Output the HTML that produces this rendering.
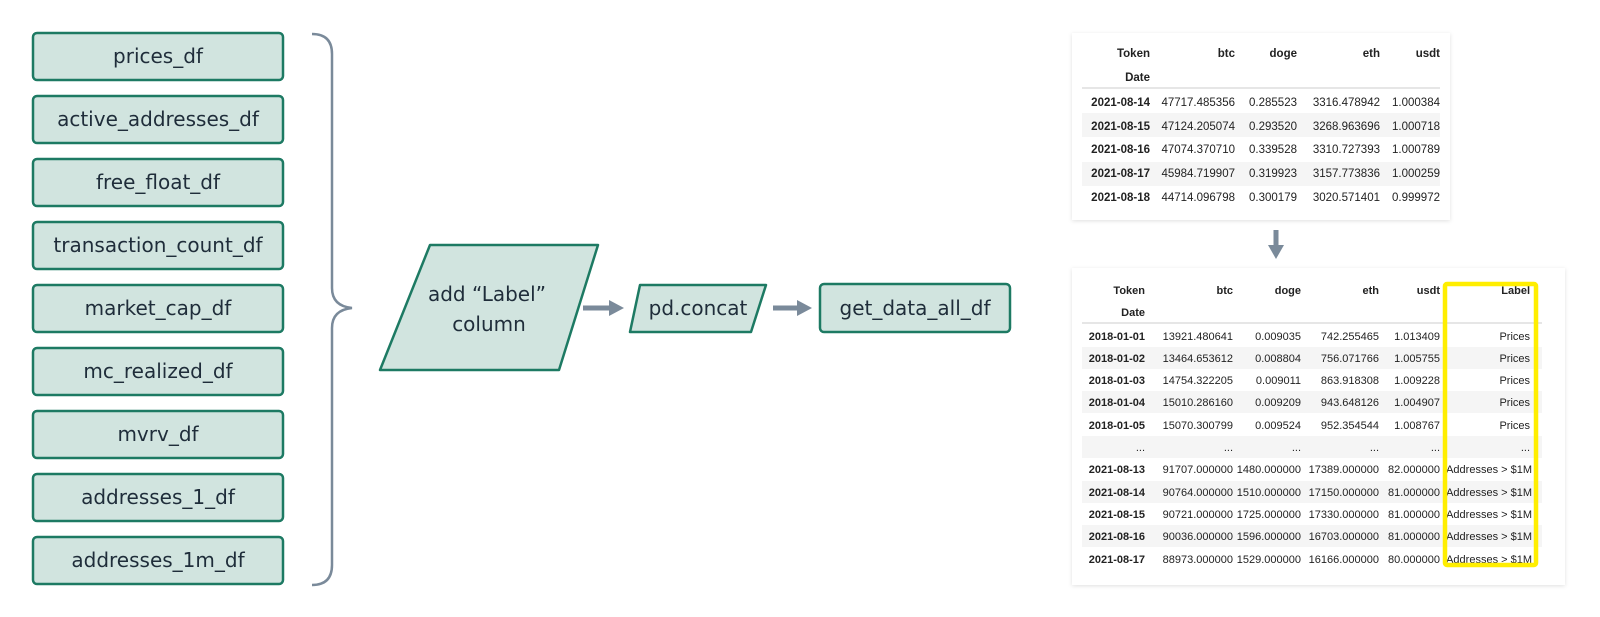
<!DOCTYPE html>
<html><head><meta charset="utf-8"><style>
html,body{margin:0;padding:0;background:#fff;}
svg{display:block;}
.n{font-family:"DejaVu Sans","Liberation Sans",sans-serif;font-size:20px;fill:#1f2d3a;text-anchor:middle;}
.t{font-family:"Liberation Sans",sans-serif;font-size:11.5px;fill:#222;text-anchor:end;}
.t2{font-family:"Liberation Sans",sans-serif;font-size:11px;fill:#222;text-anchor:end;}
.b{font-weight:bold;}
</style></head><body>
<svg width="1600" height="617" viewBox="0 0 1600 617" xmlns="http://www.w3.org/2000/svg">
<defs>
<filter id="sh" x="-5%" y="-5%" width="110%" height="110%"><feDropShadow dx="0" dy="1" stdDeviation="2" flood-color="#000" flood-opacity="0.12"/></filter>
</defs>
<g fill="#d1e4df" stroke="#1d7a63" stroke-width="2.5">
<rect x="33" y="33" width="250" height="47" rx="4"/>
<rect x="33" y="96" width="250" height="47" rx="4"/>
<rect x="33" y="159" width="250" height="47" rx="4"/>
<rect x="33" y="222" width="250" height="47" rx="4"/>
<rect x="33" y="285" width="250" height="47" rx="4"/>
<rect x="33" y="348" width="250" height="47" rx="4"/>
<rect x="33" y="411" width="250" height="47" rx="4"/>
<rect x="33" y="474" width="250" height="47" rx="4"/>
<rect x="33" y="537" width="250" height="47" rx="4"/>
<path d="M430 245 L598 245 L559 370 L380 370 Z" stroke-linejoin="round"/>
<path d="M640 285 L766 285 L751 332 L630 332 Z" stroke-linejoin="round"/>
<rect x="820" y="284" width="190" height="48" rx="4"/>
</g>
<g class="n">
<text x="487" y="301">add “Label”</text>
<text x="489" y="331">column</text>
<text x="698" y="315">pd.concat</text>
<text x="915" y="315">get_data_all_df</text>
<text x="158" y="63">prices_df</text>
<text x="158" y="126">active_addresses_df</text>
<text x="158" y="189">free_float_df</text>
<text x="158" y="252">transaction_count_df</text>
<text x="158" y="315">market_cap_df</text>
<text x="158" y="378">mc_realized_df</text>
<text x="158" y="441">mvrv_df</text>
<text x="158" y="504">addresses_1_df</text>
<text x="158" y="567">addresses_1m_df</text>
</g>
<path d="M312 34 Q332 34 332 54 L332 288 Q332 306 352 308 Q332 310 332 328 L332 565 Q332 585 312 585" fill="none" stroke="#7a8a9a" stroke-width="2.5"/>
<g stroke="#7a8a9a" stroke-width="5" fill="#7a8a9a">
<line x1="583" y1="308" x2="610" y2="308"/><path d="M609 300 L624 308 L609 316 Z" stroke="none"/>
<line x1="773" y1="308" x2="798" y2="308"/><path d="M797 300 L812 308 L797 316 Z" stroke="none"/>
<line x1="1276" y1="230" x2="1276" y2="246"/><path d="M1268 245 L1276 259 L1284 245 Z" stroke="none"/>
</g>
<!-- table 1 -->
<rect x="1072" y="33" width="378" height="187" fill="#fff" filter="url(#sh)"/>
<rect x="1082" y="113" width="358" height="24" fill="#f5f5f5"/>
<rect x="1082" y="162" width="358" height="24" fill="#f5f5f5"/>
<line x1="1082" y1="88" x2="1440" y2="88" stroke="#ccc"/>
<g class="t">
<text class="b" x="1150" y="57">Token</text><text class="b" x="1235" y="57">btc</text><text class="b" x="1297" y="57">doge</text><text class="b" x="1380" y="57">eth</text><text class="b" x="1440" y="57">usdt</text>
<text class="b" x="1150" y="81">Date</text>
<text class="b" x="1150" y="106">2021-08-14</text><text x="1235" y="106">47717.485356</text><text x="1297" y="106">0.285523</text><text x="1380" y="106">3316.478942</text><text x="1440" y="106">1.000384</text>
<text class="b" x="1150" y="130">2021-08-15</text><text x="1235" y="130">47124.205074</text><text x="1297" y="130">0.293520</text><text x="1380" y="130">3268.963696</text><text x="1440" y="130">1.000718</text>
<text class="b" x="1150" y="153">2021-08-16</text><text x="1235" y="153">47074.370710</text><text x="1297" y="153">0.339528</text><text x="1380" y="153">3310.727393</text><text x="1440" y="153">1.000789</text>
<text class="b" x="1150" y="177">2021-08-17</text><text x="1235" y="177">45984.719907</text><text x="1297" y="177">0.319923</text><text x="1380" y="177">3157.773836</text><text x="1440" y="177">1.000259</text>
<text class="b" x="1150" y="201">2021-08-18</text><text x="1235" y="201">44714.096798</text><text x="1297" y="201">0.300179</text><text x="1380" y="201">3020.571401</text><text x="1440" y="201">0.999972</text>
</g>
<!-- table 2 -->
<rect x="1072" y="268" width="493" height="317" fill="#fff" filter="url(#sh)"/>
<g fill="#f5f5f5">
<rect x="1082" y="347" width="460" height="22"/>
<rect x="1082" y="391" width="460" height="22"/>
<rect x="1082" y="436" width="460" height="22"/>
<rect x="1082" y="481" width="460" height="22"/>
<rect x="1082" y="525" width="460" height="22"/>
</g>
<line x1="1082" y1="323" x2="1542" y2="323" stroke="#ccc"/>
<g class="t2">
<text class="b" x="1145" y="294">Token</text><text class="b" x="1233" y="294">btc</text><text class="b" x="1301" y="294">doge</text><text class="b" x="1379" y="294">eth</text><text class="b" x="1440" y="294">usdt</text><text class="b" x="1530" y="294">Label</text>
<text class="b" x="1145" y="316">Date</text>
<text class="b" x="1145" y="340">2018-01-01</text><text x="1233" y="340">13921.480641</text><text x="1301" y="340">0.009035</text><text x="1379" y="340">742.255465</text><text x="1440" y="340">1.013409</text><text x="1530" y="340">Prices</text>
<text class="b" x="1145" y="362">2018-01-02</text><text x="1233" y="362">13464.653612</text><text x="1301" y="362">0.008804</text><text x="1379" y="362">756.071766</text><text x="1440" y="362">1.005755</text><text x="1530" y="362">Prices</text>
<text class="b" x="1145" y="384">2018-01-03</text><text x="1233" y="384">14754.322205</text><text x="1301" y="384">0.009011</text><text x="1379" y="384">863.918308</text><text x="1440" y="384">1.009228</text><text x="1530" y="384">Prices</text>
<text class="b" x="1145" y="406">2018-01-04</text><text x="1233" y="406">15010.286160</text><text x="1301" y="406">0.009209</text><text x="1379" y="406">943.648126</text><text x="1440" y="406">1.004907</text><text x="1530" y="406">Prices</text>
<text class="b" x="1145" y="429">2018-01-05</text><text x="1233" y="429">15070.300799</text><text x="1301" y="429">0.009524</text><text x="1379" y="429">952.354544</text><text x="1440" y="429">1.008767</text><text x="1530" y="429">Prices</text>
<text x="1145" y="451">...</text><text x="1233" y="451">...</text><text x="1301" y="451">...</text><text x="1379" y="451">...</text><text x="1440" y="451">...</text><text x="1530" y="451">...</text>
<text class="b" x="1145" y="473">2021-08-13</text><text x="1233" y="473">91707.000000</text><text x="1301" y="473">1480.000000</text><text x="1379" y="473">17389.000000</text><text x="1440" y="473">82.000000</text><text x="1532" y="473">Addresses &gt; $1M</text>
<text class="b" x="1145" y="496">2021-08-14</text><text x="1233" y="496">90764.000000</text><text x="1301" y="496">1510.000000</text><text x="1379" y="496">17150.000000</text><text x="1440" y="496">81.000000</text><text x="1532" y="496">Addresses &gt; $1M</text>
<text class="b" x="1145" y="518">2021-08-15</text><text x="1233" y="518">90721.000000</text><text x="1301" y="518">1725.000000</text><text x="1379" y="518">17330.000000</text><text x="1440" y="518">81.000000</text><text x="1532" y="518">Addresses &gt; $1M</text>
<text class="b" x="1145" y="540">2021-08-16</text><text x="1233" y="540">90036.000000</text><text x="1301" y="540">1596.000000</text><text x="1379" y="540">16703.000000</text><text x="1440" y="540">81.000000</text><text x="1532" y="540">Addresses &gt; $1M</text>
<text class="b" x="1145" y="563">2021-08-17</text><text x="1233" y="563">88973.000000</text><text x="1301" y="563">1529.000000</text><text x="1379" y="563">16166.000000</text><text x="1440" y="563">80.000000</text><text x="1532" y="563">Addresses &gt; $1M</text>
</g>
<rect x="1445" y="284" width="91" height="281" fill="none" stroke="#ffee00" stroke-width="4.5" rx="2"/>
</svg>
</body></html>
